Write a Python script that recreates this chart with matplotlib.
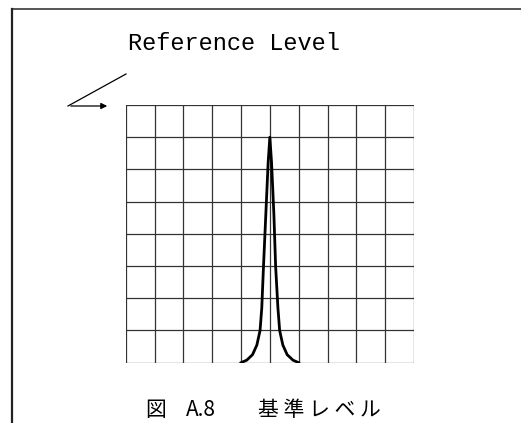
import numpy as np
import matplotlib
matplotlib.use("Agg")
import matplotlib.pyplot as plt

# divisions of the screen grid
n_cols = 10
n_rows = 8

# trace (x in divisions, y in divisions)
trace_x = [4.0, 4.2, 4.4, 4.55, 4.66, 4.72, 4.78, 4.86, 4.94, 5.0, 5.06, 5.14, 5.2, 5.28, 5.34, 5.45, 5.6, 5.8, 6.0]
trace_y = [0.0, 0.08, 0.25, 0.55, 1.0, 1.7, 3.0, 4.6, 6.2, 7.0, 6.2, 4.6, 3.0, 1.7, 1.0, 0.55, 0.25, 0.08, 0.0]

title_text = "Reference Level"
caption_parts = ["図", "A.8", "基 準 レ ベ ル"]

W, H = 521, 423
fig = plt.figure(figsize=(W / 100, H / 100), dpi=100)

# full-figure overlay in pixel coordinates (y down)
over = fig.add_axes([0, 0, 1, 1])
over.set_xlim(0, W)
over.set_ylim(H, 0)
over.axis("off")

# page border (top and left)
over.plot([12, W], [9, 9], color="#555555", lw=1.4)
over.plot([12, 12], [9, H], color="#222222", lw=1.6)

# title
over.text(128, 43, title_text, fontsize=17, family="Liberation Mono",
          ha="left", va="center", color="black")

# pointer line and arrow
over.plot([68, 126], [106, 74], color="black", lw=0.9)
over.annotate("", xy=(110, 106), xytext=(68, 106),
              arrowprops=dict(arrowstyle="-|>", color="black", lw=0.9,
                              mutation_scale=9))

# caption at the bottom edge
cap_font = ["Noto Sans CJK JP", "DejaVu Sans"]
for px, part in zip([145, 186, 258], caption_parts):
    over.text(px, 421, part, fontsize=15, family=cap_font,
              ha="left", va="bottom", color="black")

# screen grid
ax = fig.add_axes([125.7 / W, 60.3 / H, 288.3 / W, 257.7 / H])
ax.set_xlim(0, n_cols)
ax.set_ylim(0, n_rows)
for i in range(n_cols + 1):
    ax.axvline(i, color="#333333", lw=0.9)
for j in range(n_rows + 1):
    ax.axhline(j, color="#333333", lw=0.9)
ax.plot(trace_x, trace_y, color="black", lw=2.0, solid_joinstyle="round")
ax.set_xticks([])
ax.set_yticks([])
for s in ax.spines.values():
    s.set_visible(False)

fig.savefig("out.png", dpi=100)
